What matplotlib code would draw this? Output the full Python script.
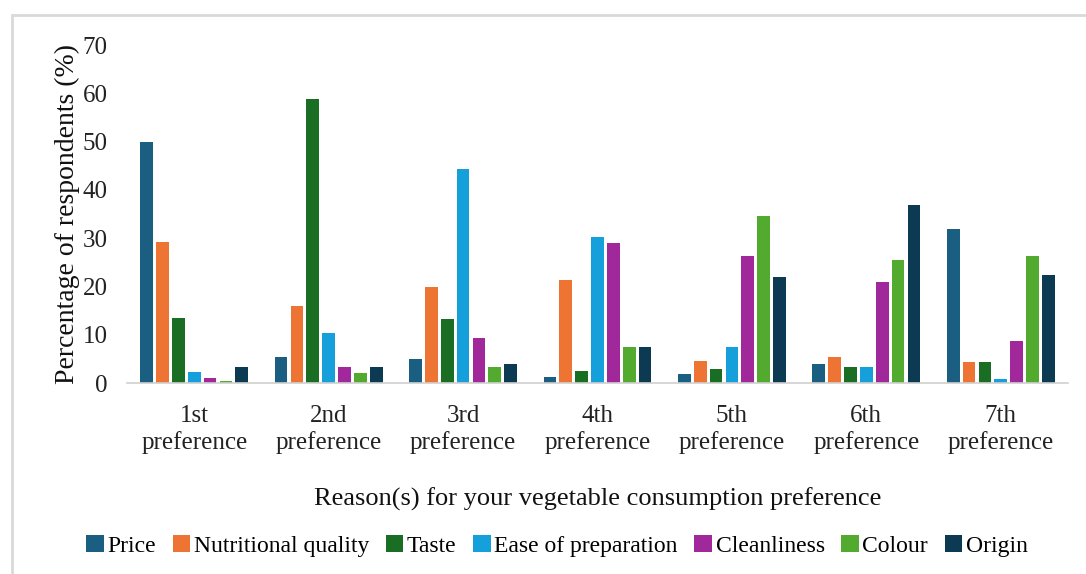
import matplotlib
matplotlib.use("Agg")
import matplotlib.pyplot as plt
import numpy as np
from matplotlib.patches import Rectangle

categories = ["1st\npreference", "2nd\npreference", "3rd\npreference", "4th\npreference",
              "5th\npreference", "6th\npreference", "7th\npreference"]
series_names = ["Price", "Nutritional quality", "Taste", "Ease of preparation",
                "Cleanliness", "Colour", "Origin"]
price = [50.0, 5.4, 4.9, 1.3, 1.9, 3.9, 31.9]
nutritional = [29.1, 15.9, 19.9, 21.3, 4.5, 5.4, 4.4]
taste = [13.4, 58.9, 13.3, 2.4, 2.9, 3.3, 4.4]
ease = [2.3, 10.4, 44.4, 30.3, 7.5, 3.3, 0.8]
cleanliness = [1.0, 3.4, 9.4, 28.9, 26.4, 21.0, 8.8]
colour = [0.4, 2.0, 3.4, 7.4, 34.6, 25.5, 26.3]
origin = [3.4, 3.4, 3.9, 7.4, 21.9, 36.9, 22.4]
yticks = [0, 10, 20, 30, 40, 50, 60, 70]

series = [price, nutritional, taste, ease, cleanliness, colour, origin]
colors = ["#1a5e82", "#ed7433", "#1a6e24", "#16a0db", "#a0289a", "#52ab2e", "#0b3a52"]

plt.rcParams['font.family'] = ['Liberation Serif', 'DejaVu Serif']

fig = plt.figure(figsize=(10.86, 5.74), dpi=100)
ax = fig.add_axes([127/1086, 1-383/574, (1068-127)/1086, (383-45)/574])

# outer frame
fig.patches.append(Rectangle((12/1086, -0.05), 1.2, 1-15/574+0.05, transform=fig.transFigure,
                             fill=False, edgecolor="#d9d9d9", linewidth=2.0))

x = np.arange(len(categories))
n = len(series)
step = 0.118
width = 0.094
for i, (vals, c, name) in enumerate(zip(series, colors, series_names)):
    ax.bar(x + (i - (n - 1) / 2) * step, vals, width=width, color=c, label=name)

ax.set_xlim(-0.5, len(categories) - 0.5)
ax.set_ylim(0, 70)
ax.set_yticks(yticks)
ax.set_xticks(x)
ax.set_xticklabels(categories, fontsize=18, linespacing=1.2)
ax.tick_params(axis='y', length=0, labelsize=18, colors="#222222", pad=14)
ax.tick_params(axis='x', length=0, labelsize=18, colors="#222222", pad=16)
for s in ["top", "right", "left"]:
    ax.spines[s].set_visible(False)
ax.spines["bottom"].set_color("#d0d0d0")
ax.spines["bottom"].set_linewidth(1.2)

ax.set_ylabel("Percentage of respondents (%)", fontsize=20, labelpad=2, color="#111111")
ax.set_xlabel("Reason(s) for your vegetable consumption preference", fontsize=19,
              labelpad=24, color="#111111")

leg = fig.legend(loc="center", bbox_to_anchor=(557/1086, 1-546/574), ncol=7, frameon=False,
                 fontsize=17, handlelength=0.75, handleheight=0.75, handletextpad=0.15,
                 columnspacing=0.7)

fig.savefig("out.png", dpi=100)
